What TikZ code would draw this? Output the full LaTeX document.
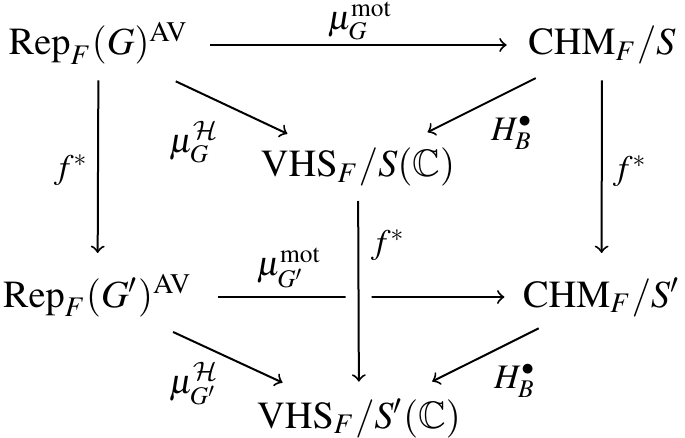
\documentclass[tikz,border=0pt]{standalone}
\usepackage{amssymb}
\usepackage{mathptmx}
\DeclareMathAlphabet{\mathcal}{OMS}{cmsy}{m}{n}
\usetikzlibrary{arrows}

\begin{document}
\begin{tikzpicture}[x=0.3pt,y=0.3pt,yscale=-1,xscale=1,
  every node/.style={font=\fontsize{11.5}{14}\selectfont},
  obj/.style={inner sep=0pt,text height=8pt,text depth=2pt},
  lbl/.style={inner sep=0.5pt,font=\fontsize{10.3}{12}\selectfont},
  arr/.style={->,line width=0.6pt},
  crossover/.style={preaction={draw=white,line width=7.8pt,-}}]
\useasboundingbox (0,0) rectangle (685,437);

% Objects
\node [obj] (rep)  at (98.5,45)  {$\mathrm{Rep}_F(G)^{\mathrm{AV}}$};
\node [obj] (chm)  at (602,45)   {$\mathrm{CHM}_F/S$};
\node [obj] (vhs)  at (358,167)  {$\mathrm{VHS}_F/S(\mathbb{C})$};
\node [obj] (rep2) at (97.5,297) {$\mathrm{Rep}_F(G')^{\mathrm{AV}}$};
\node [obj] (chm2) at (601.5,297) {$\mathrm{CHM}_F/S'$};
\node [obj] (vhs2) at (359,418)  {$\mathrm{VHS}_F/S'(\mathbb{C})$};

%Straight Lines (top square)
\draw [arr,shorten <=6.3pt,shorten >=6.3pt] (rep) -- (chm);
\draw [arr,shorten <=13.4pt,shorten >=11.2pt] (rep) -- (vhs);
\draw [arr,shorten <=10.6pt,shorten >=11.7pt] (chm) -- (vhs);
%Straight Lines (verticals)
\draw [arr,shorten <=5.4pt,shorten >=8pt] (rep) -- (rep2);
\draw [arr,shorten <=5.4pt,shorten >=8pt] (chm) -- (chm2);
%Straight Lines (bottom square)
\draw [arr,shorten <=7.5pt,shorten >=5.4pt] (rep2) -- (chm2);
\draw [arr,crossover,shorten <=5pt,shorten >=5.7pt] (vhs) -- (vhs2);
\draw [arr,shorten <=12.6pt,shorten >=12.9pt] (rep2) -- (vhs2);
\draw [arr,shorten <=9.4pt,shorten >=12.9pt] (chm2) -- (vhs2);

% Text Node
\node [lbl] (lmot)  at (360,21)  {$\mu_G^{\mathrm{mot}}$};
% Text Node
\node [lbl] (lhdg)  at (194,142) {$\mu_G^{\mathcal{H}}$};
% Text Node
\node [lbl] (lhb)   at (512,133) {$H_B^{\bullet}$};
% Text Node
\node [lbl] (lfl)   at (71,170)  {$f^*$};
% Text Node
\node [lbl] (lfr)   at (630,171) {$f^*$};
% Text Node
\node [lbl] (lfm)   at (388,245) {$f^*$};
% Text Node
\node [lbl] (lmot2) at (289,268) {$\mu_{G'}^{\mathrm{mot}}$};
% Text Node
\node [lbl] (lhdg2) at (194,384) {$\mu_{G'}^{\mathcal{H}}$};
% Text Node
\node [lbl] (lhb2)  at (515,381) {$H_B^{\bullet}$};

\end{tikzpicture}
\end{document}
